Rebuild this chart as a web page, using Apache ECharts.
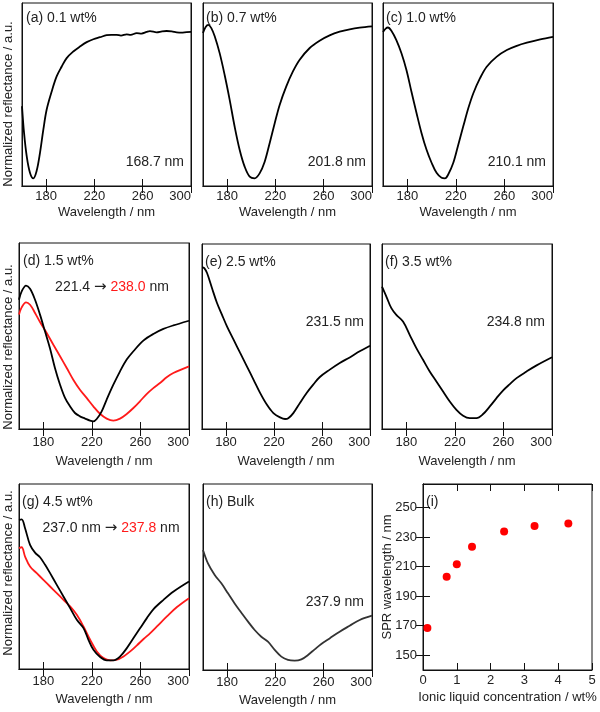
<!DOCTYPE html>
<html><head><meta charset="utf-8">
<script src="https://cdn.jsdelivr.net/npm/echarts@6/dist/echarts.min.js"></script>
<style>html,body{margin:0;padding:0;background:#fff}#c{width:600px;height:712px}</style>
</head><body><div id="c"></div>
<script>
// ---------- data ----------
const wlTicks = [180, 220, 260, 300];
const aWl = [160,161.7,163.9,166.6,169.4,172.1,174.9,177.7,180.4,184.6,188.7,192.9,197,202.5,208,213.6,219.1,224.6,230.1,234,238.4,242,246.7,250,255,259,263.3,266,271.5,276,279.8,284,288.1,292,296.4,300];
const aR  = [0.436,0.29,0.163,0.073,0.042,0.082,0.181,0.309,0.417,0.517,0.599,0.653,0.699,0.735,0.762,0.786,0.802,0.813,0.824,0.826,0.826,0.822,0.829,0.826,0.835,0.833,0.842,0.846,0.840,0.845,0.847,0.845,0.840,0.838,0.841,0.842];
const bWl = [160,162.2,164.4,166.9,169.7,173.8,177.9,182.1,186.2,190.4,194.5,198.7,202.8,206.9,211.1,215.2,219.4,223.5,229,234.5,240.1,248.4,256.6,264.9,273.2,281.5,289.8,300];
const bR  = [0.836,0.869,0.880,0.863,0.818,0.726,0.608,0.471,0.325,0.197,0.106,0.051,0.042,0.069,0.133,0.234,0.343,0.443,0.544,0.626,0.690,0.754,0.794,0.823,0.843,0.856,0.865,0.872];
const cWl = [160,162.2,164.1,166.9,171,175.2,179.3,183.4,187.6,191.7,195.8,200,204.1,208.2,211,213.7,217.9,222,226.1,230.3,234.4,239.9,245.4,253.7,262,270.2,278.5,289.5,300];
const cR  = [0.842,0.860,0.866,0.848,0.797,0.725,0.634,0.516,0.399,0.290,0.199,0.127,0.072,0.045,0.042,0.063,0.127,0.226,0.326,0.426,0.507,0.589,0.652,0.707,0.743,0.766,0.783,0.801,0.815];
const dBlackWl = [160,162.2,165.8,169.1,173.2,177.3,181.4,185.5,189.6,193.8,197.9,202,206.1,210.2,214.4,218.5,221.2,224,228.1,232.2,237.7,243.2,248.7,254.2,262.4,270.6,278.9,287.1,300];
const dBlackR  = [0.695,0.740,0.771,0.754,0.695,0.615,0.525,0.434,0.328,0.238,0.167,0.122,0.086,0.068,0.056,0.045,0.041,0.054,0.095,0.158,0.238,0.310,0.373,0.418,0.475,0.511,0.538,0.557,0.582];
const dRedWl = [160,162.2,165.8,169.1,173.2,177.3,182.8,188.3,193.8,199.3,204.7,210.2,215.7,221.2,226.7,232.2,237.7,243.2,248.7,254.2,259.6,265.1,270.6,276.1,281.6,287.1,300];
const dRedR  = [0.615,0.654,0.681,0.668,0.624,0.575,0.516,0.453,0.391,0.328,0.265,0.211,0.167,0.122,0.082,0.056,0.045,0.056,0.081,0.113,0.149,0.188,0.220,0.247,0.278,0.301,0.337];
const eWl = [160,161.9,164.2,168.3,172.5,176.6,180.8,186.3,191.8,197.4,202.9,208.4,214,219.5,225,229.2,231.9,236.1,241.6,247.2,252.7,258.2,266.5,274.8,283.1,291.4,300];
const eR  = [0.874,0.870,0.843,0.762,0.681,0.618,0.555,0.483,0.411,0.339,0.267,0.195,0.132,0.086,0.063,0.054,0.058,0.086,0.141,0.195,0.240,0.281,0.321,0.357,0.387,0.420,0.450];
const fWl = [160,163.6,167.7,171.8,177.3,182.8,188.3,193.8,199.3,204.8,210.3,215.8,221.3,226.8,232.3,237.8,243.3,248.8,254.3,259.8,265.3,270.8,279.1,287.3,300];
const fR  = [0.770,0.716,0.653,0.617,0.581,0.509,0.437,0.374,0.311,0.257,0.203,0.149,0.104,0.072,0.059,0.059,0.081,0.122,0.167,0.209,0.243,0.275,0.311,0.344,0.388];
const gBlackWl = [160,162.2,165,169.1,173.2,177.3,181.5,185.6,191.1,196.6,202.1,207.6,213.1,217.2,221.3,226.8,232.3,237.8,243.3,248.8,254.3,259.8,265.3,270.8,279,287.3,300];
const gBlackR  = [0.806,0.809,0.761,0.671,0.629,0.604,0.563,0.518,0.455,0.392,0.329,0.266,0.221,0.158,0.104,0.065,0.047,0.047,0.068,0.113,0.167,0.221,0.275,0.324,0.374,0.419,0.473];
const gRedWl = [160,162.2,165,169.1,174.6,180.1,185.6,191.1,196.6,202.1,207.6,213.1,218.6,224.1,229.6,235.1,240.6,246.1,251.6,257.1,262.6,268.1,273.6,281.8,290.1,300];
const gRedR  = [0.653,0.658,0.608,0.554,0.518,0.482,0.446,0.410,0.374,0.338,0.293,0.230,0.158,0.095,0.059,0.047,0.050,0.068,0.095,0.128,0.162,0.194,0.230,0.284,0.335,0.383];
const hWl = [160,164.1,169.7,175.2,180.7,186.2,191.8,197.3,202.8,208.3,213.8,219.4,224.9,230.4,235.9,241.5,247,252.5,258,264.9,273.2,281.5,289.8,300];
const hR  = [0.645,0.573,0.511,0.466,0.412,0.358,0.308,0.260,0.215,0.179,0.152,0.108,0.072,0.054,0.050,0.057,0.081,0.111,0.140,0.170,0.206,0.238,0.269,0.292];
const conc = [0.13,0.7,1.0,1.45,2.4,3.3,4.3];
const sprWl = [168.5,203.2,211.6,223.5,233.9,237.5,239.3];
const sprTicks = [150,170,190,210,230,250];
const concTicks = [0,1,2,3,4,5];

// ---------- layout ----------
const FF = 'Liberation Sans, Arial, Helvetica, sans-serif';
const TXT = '#222';
const RED = '#ff1a1a';
const panels = [
  {l:22, t:3,   w:169, h:183, lm:4, ng:20},
  {l:203,t:3,   w:169, h:183, lm:4, ng:20},
  {l:383,t:3,   w:170, h:183, lm:4, ng:20},
  {l:19, t:243, w:170, h:186, lm:7, ng:26},
  {l:202,t:244, w:168, h:185, lm:7, ng:26},
  {l:382,t:244, w:170, h:185, lm:7, ng:26},
  {l:19, t:484, w:170, h:185, lm:6, ng:24},
  {l:203,t:484, w:169, h:186, lm:6, ng:24},
  {l:423,t:484, w:169, h:186, lm:4, ng:21}
];
const zip = (xs, ys) => xs.map((x, i) => [x, ys[i]]);

const grid = [], xAxis = [], yAxis = [], series = [];
panels.forEach((p, i) => {
  grid.push({left:p.l, top:p.t, width:p.w, height:p.h, show:true, borderColor:'#111', borderWidth:1, backgroundColor:'transparent'});
  const isI = i === 8;
  const xmin = isI ? 0 : 160, xmax = isI ? 5 : 300;
  const xt = isI ? concTicks : wlTicks;
  xAxis.push({
    type:'value', gridIndex:i, position:'bottom', min:xmin, max:xmax,
    name: isI ? 'Ionic liquid concentration / wt%' : 'Wavelength / nm',
    nameLocation:'middle', nameGap:p.ng,
    nameTextStyle:{fontFamily:FF, fontSize:13, color:TXT},
    axisLine:{show:true, lineStyle:{color:'#111', width:1}},
    axisTick:{show:true, inside:true, length:7, customValues:xt, lineStyle:{color:'#111'}},
    axisLabel:{show:true, customValues:xt, margin:p.lm, fontFamily:FF, fontSize:13, color:TXT,
               alignMaxLabel: isI ? null : 'right'},
    splitLine:{show:false}
  });
  xAxis.push({
    type:'value', gridIndex:i, position:'top', min:xmin, max:xmax,
    axisLine:{show:true, lineStyle:{color:'#111', width:1}},
    axisTick:{show:true, inside:true, length:7, customValues:xt, lineStyle:{color:'#111'}},
    axisLabel:{show:false}, splitLine:{show:false}
  });
  yAxis.push({
    type:'value', gridIndex:i, position:'left',
    min: isI ? 140 : 0, max: isI ? 266 : 1,
    axisLine:{show:true, lineStyle:{color:'#111', width:1}},
    axisTick:{show:isI, inside:true, length:7, customValues:sprTicks, lineStyle:{color:'#111'}},
    axisLabel:{show:isI, customValues:sprTicks, margin:6, fontFamily:FF, fontSize:13, color:TXT},
    splitLine:{show:false}
  });
  yAxis.push({
    type:'value', gridIndex:i, position:'right',
    min: isI ? 140 : 0, max: isI ? 266 : 1,
    axisLine:{show:true, lineStyle:{color:'#111', width:1}},
    axisTick:{show:isI, inside:true, length:7, customValues:sprTicks, lineStyle:{color:'#111'}},
    axisLabel:{show:false}, splitLine:{show:false}
  });
});

function line(i, xs, ys, color) {
  series.push({type:'line', xAxisIndex:2*i, yAxisIndex:2*i, data:zip(xs, ys),
    showSymbol:false, smooth:0.35, lineStyle:{color:color, width:1.8}, silent:true, animation:false});
}
line(0, aWl, aR, '#000');
line(1, bWl, bR, '#000');
line(2, cWl, cR, '#000');
line(3, dRedWl, dRedR, RED);
line(3, dBlackWl, dBlackR, '#000');
line(4, eWl, eR, '#000');
line(5, fWl, fR, '#000');
line(6, gRedWl, gRedR, RED);
line(6, gBlackWl, gBlackR, '#000');
line(7, hWl, hR, '#333');
series.push({type:'scatter', xAxisIndex:16, yAxisIndex:16, data:zip(conc, sprWl),
  symbol:'circle', symbolSize:8, itemStyle:{color:'#ff0000', opacity:1}, silent:true, animation:false});

// ---------- annotations ----------
const T = (x, y, text, align) => ({type:'text', x:x, y:y, silent:true,
  style:{text:text, fontFamily:FF, fontSize:14, fill:TXT, align:align||'left', verticalAlign:'middle'}});
const rich = {
  k:{fontFamily:FF, fontSize:14, fill:TXT},
  a:{fontFamily:'DejaVu Sans, sans-serif', fontSize:15, fill:TXT},
  r:{fontFamily:FF, fontSize:14, fill:RED}
};
const V = (x, y, text) => ({type:'text', x:x, y:y, rotation:Math.PI/2, silent:true,
  style:{text:text, fontFamily:FF, fontSize:13, fill:TXT, align:'center', verticalAlign:'middle'}});
const graphic = [
  T(26, 18, '(a) 0.1 wt%'), T(184, 162, '168.7 nm', 'right'),
  T(206, 18, '(b) 0.7 wt%'), T(366, 162, '201.8 nm', 'right'),
  T(386, 18, '(c) 1.0 wt%'), T(546, 162, '210.1 nm', 'right'),
  T(23, 261, '(d) 1.5 wt%'),
  {type:'text', x:112, y:287, silent:true, style:{text:'{k|221.4 }{a|→}{k| }{r|238.0}{k| nm}', rich:rich, align:'center', verticalAlign:'middle'}},
  T(205, 262, '(e) 2.5 wt%'), T(364, 322, '231.5 nm', 'right'),
  T(385, 262, '(f) 3.5 wt%'), T(545, 322, '234.8 nm', 'right'),
  T(22, 502, '(g) 4.5 wt%'),
  {type:'text', x:111, y:528, silent:true, style:{text:'{k|237.0 nm }{a|→}{k| }{r|237.8}{k| nm}', rich:rich, align:'center', verticalAlign:'middle'}},
  T(206, 502, '(h) Bulk'), T(364, 602, '237.9 nm', 'right'),
  T(426, 502, '(i)'),
  V(8, 104, 'Normalized reflectance / a.u.'),
  V(8, 347, 'Normalized reflectance / a.u.'),
  V(8, 573, 'Normalized reflectance / a.u.'),
  V(387, 577, 'SPR wavelength / nm')
];

const chart = echarts.init(document.getElementById('c'), null, {renderer:'canvas'});
chart.setOption({backgroundColor:'#fff', animation:false, grid, xAxis, yAxis, series, graphic});
</script></body></html>
